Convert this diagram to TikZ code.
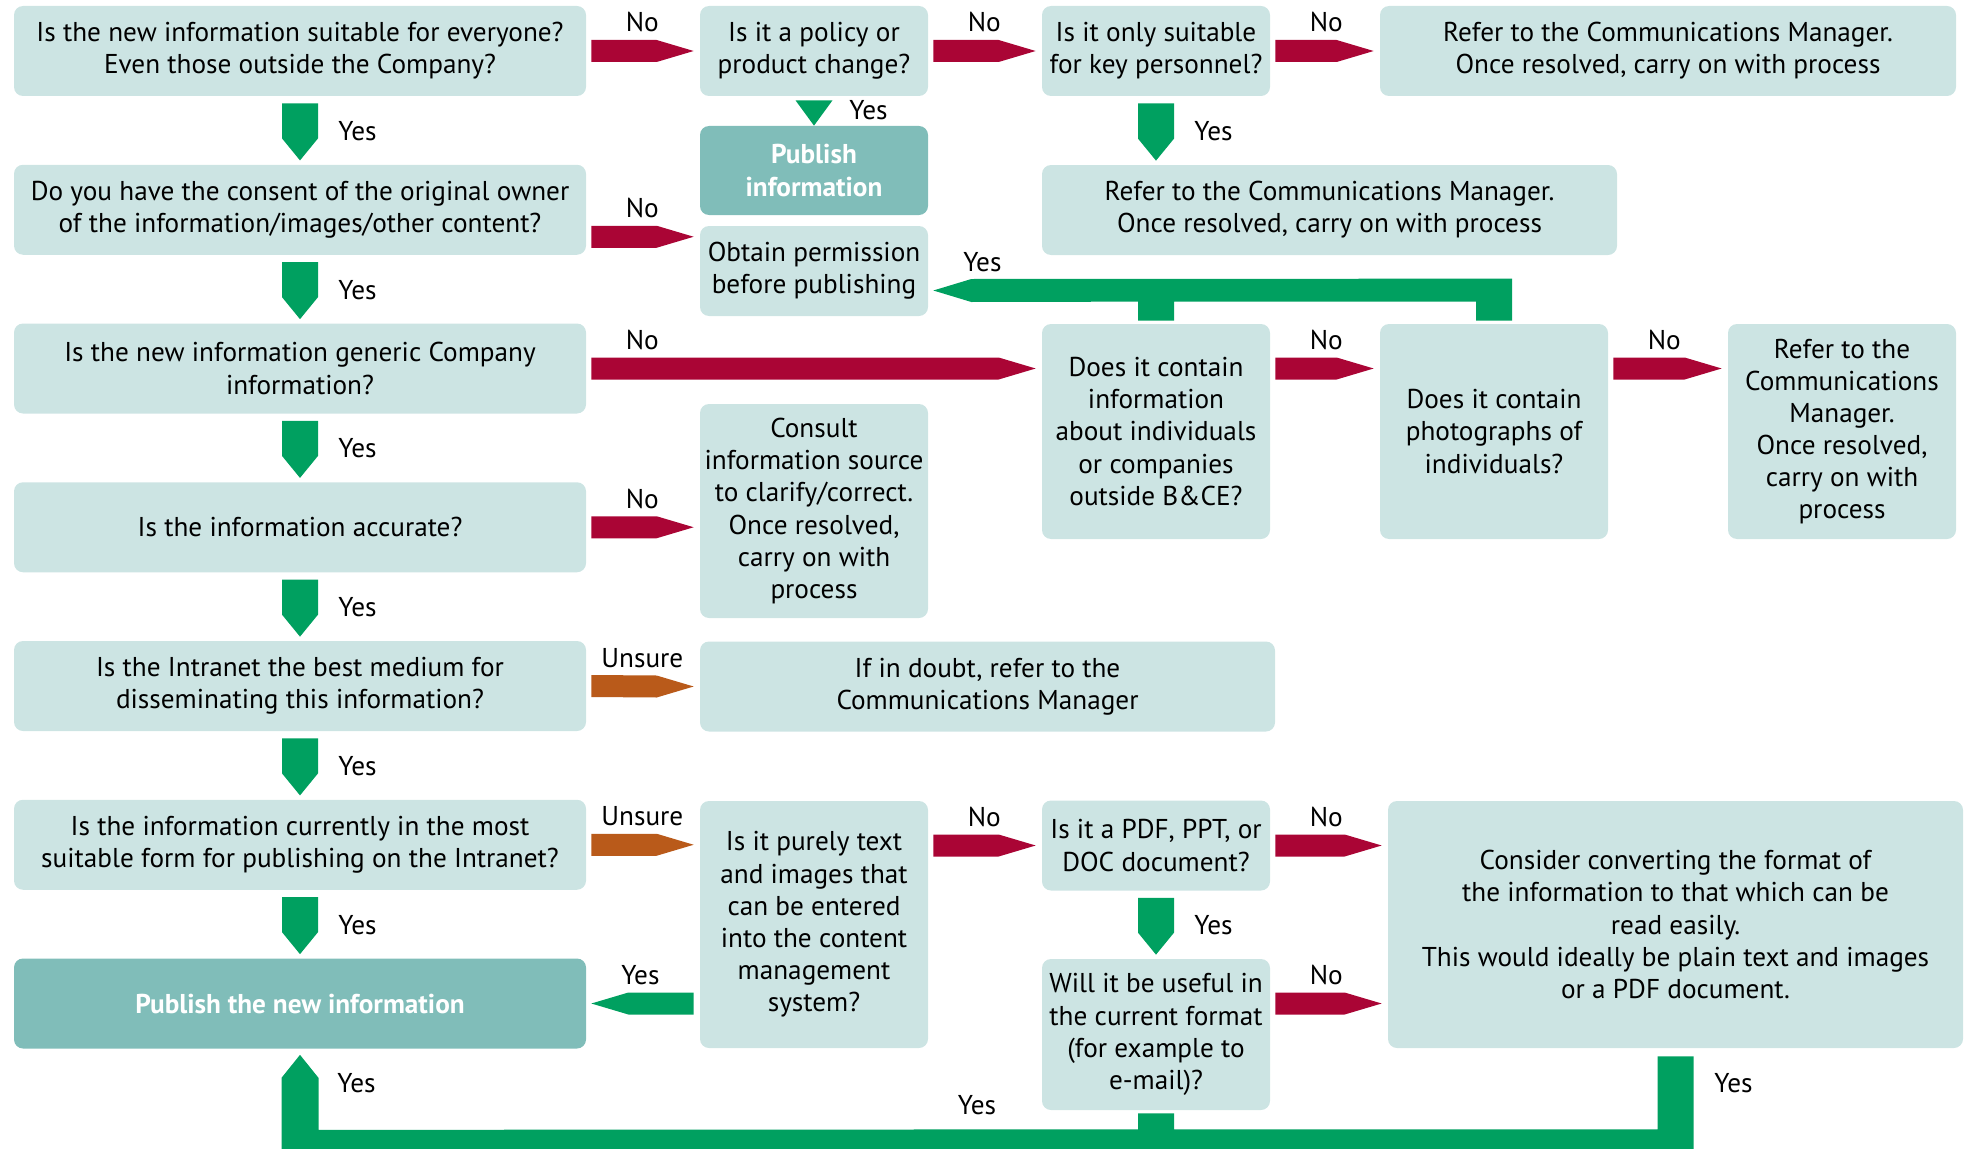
\documentclass[tikz,border=0pt]{standalone}
\usepackage{fontspec}
\setmainfont{PT Sans}
\usepackage{tikz}
\usetikzlibrary{positioning, calc}

\newdimen\pxu \pxu=0.02cm
\newcommand\boxfont{\fontsize{15.5pt}{18.3pt}\selectfont}

\definecolor{boxfill}{HTML}{CCE4E3}
\definecolor{pubfill}{HTML}{80BDB9}
\definecolor{nocol}{HTML}{AA0535}
\definecolor{yescol}{HTML}{00A060}
\definecolor{unsurecol}{HTML}{B95A1A}

\tikzset{
  box/.style = {rectangle, rounded corners=9\pxu, fill=boxfill, text=black, align=center,
                inner sep=0pt, font=\boxfont, minimum height=90\pxu},
  wide/.style = {minimum width=572\pxu},
  narrow/.style = {minimum width=228\pxu},
  pub/.style = {box, fill=pubfill, text=white, font=\boxfont\bfseries},
  lbl/.style = {anchor=base, inner sep=0pt, font=\boxfont},
  ylbl/.style = {lbl, anchor=base west},
  % fat arrows between boxes
  fwd/.style = {to path={($(\tikztostart)+(5,-11)$) -- ($(\tikztotarget)+(-43,-11)$)
                -- ($(\tikztotarget)+(-6,0)$) -- ($(\tikztotarget)+(-43,11)$)
                -- ($(\tikztostart)+(5,11)$) -- cycle}},
  back/.style = {to path={($(\tikztostart)+(-6,-11)$) -- ($(\tikztotarget)+(42,-11)$)
                -- ($(\tikztotarget)+(5,0)$) -- ($(\tikztotarget)+(42,11)$)
                -- ($(\tikztostart)+(-6,11)$) -- cycle}},
  down/.style = {to path={($(\tikztostart)+(-18,7)$) -- ($(\tikztotarget)+(-18,-26)$)
                -- ($(\tikztotarget)+(0,-4)$) -- ($(\tikztotarget)+(18,-26)$)
                -- ($(\tikztostart)+(18,7)$) -- cycle}},
}

\begin{document}
\begin{tikzpicture}[x=\pxu, y=-\pxu, node distance=158.75\pxu, on grid]
    \useasboundingbox (0,0) rectangle (1971,1149);

    % main column
    \node (q1) [box, wide] at (300,51) {Is the new information suitable for everyone?\\Even those outside the Company?};
    \node (q4) [box, wide, below=of q1] {Do you have the consent of the original owner\\of the information/images/other content?};
    \node (q5) [box, wide, below=of q4] {Is the new information generic Company\\information?};
    \node (q8) [box, wide, below=of q5] {Is the information accurate?};
    \node (q9) [box, wide, below=of q8] {Is the Intranet the best medium for\\disseminating this information?};
    \node (q10) [box, wide, below=of q9] {Is the information currently in the most\\suitable form for publishing on the Intranet?};
    \node (publish) [pub, wide, below=of q10] {Publish the new information};

    % top rows
    \node (q2) [box, narrow, right=514\pxu of q1] {Is it a policy or\\product change?};
    \node (q3) [box, narrow, right=342\pxu of q2] {Is it only suitable\\for key personnel?};
    \node (ref1) [box, minimum width=576\pxu, right=512\pxu of q3] {Refer to the Communications Manager.\\Once resolved, carry on with process};
    \node (pubinfo) [pub, narrow, minimum height=89\pxu] at (814,170.5) {Publish\\information};
    \node (ref2) [box, minimum width=575\pxu] at (1329.5,210) {Refer to the Communications Manager.\\Once resolved, carry on with process};
    \node (perm) [box, narrow] at (814,271) {Obtain permission\\before publishing};

    % middle rows
    \node (q6) [box, narrow, minimum height=215\pxu] at (1156,431.5) {Does it contain\\information\\about individuals\\or companies\\outside B\&CE?};
    \node (q7) [box, narrow, minimum height=215\pxu, right=338\pxu of q6] {Does it contain\\photographs of\\individuals?};
    \node (ref3) [box, narrow, minimum height=215\pxu, right=348\pxu of q7] {Refer to the\\Communications\\Manager.\\Once resolved,\\carry on with\\process};
    \node (consult) [box, narrow, minimum height=214\pxu] at (814,511) {Consult\\information source\\to clarify/correct.\\Once resolved,\\carry on with\\process};
    \node (doubt) [box, minimum width=575\pxu] at (987.5,686.5) {If in doubt, refer to the\\Communications Manager};

    % bottom rows
    \node (q11) [box, narrow, minimum height=247\pxu] at (814,924.5) {Is it purely text\\and images that\\can be entered\\into the content\\management\\system?};
    \node (q12) [box, narrow] at (1156,845.5) {Is it a PDF, PPT, or\\DOC document?};
    \node (q13) [box, narrow, minimum height=151\pxu] at (1156,1034.5) {Will it be useful in\\the current format\\(for example to\\e-mail)?};
    \node (convert) [box, minimum width=575\pxu, minimum height=247\pxu] at (1675.5,924.5) {Consider converting the format of\\the information to that which can be\\read easily.\\This would ideally be plain text and images\\or a PDF document.};

    % No / Unsure arrows
    \coordinate (n4) at ($(q4.east)+(0,27)$);
    \fill [nocol] (q1.east) to[fwd] (q2.west);
    \fill [nocol] (q2.east) to[fwd] (q3.west);
    \fill [nocol] (q3.east) to[fwd] (ref1.west);
    \fill [nocol] (n4) to[fwd] (n4 -| perm.west);
    \fill [nocol] (q5.east) to[fwd] (q5.east -| q6.west);
    \fill [nocol] (q6.east |- q5.east) to[fwd] (q7.west |- q5.east);
    \fill [nocol] (q7.east |- q5.east) to[fwd] (ref3.west |- q5.east);
    \fill [nocol] (q8.east) to[fwd] (q8.east -| consult.west);
    \fill [unsurecol] (q9.east) to[fwd] (doubt.west);
    \fill [unsurecol] (q10.east) to[fwd] (q10.east -| q11.west);
    \fill [nocol] (q11.east |- q12.west) to[fwd] (q12.west);
    \fill [nocol] (q12.east) to[fwd] (q12.east -| convert.west);
    \fill [nocol] (q13.east |- publish.east) to[fwd] (convert.west |- publish.east);

    \node (no1) [lbl] at ($(q1.east)+(56,-19)$) {No};
    \node (no2) [lbl] at ($(q2.east)+(56,-19)$) {No};
    \node (no3) [lbl] at ($(q3.east)+(56,-19)$) {No};
    \node (no4) [lbl] at ($(n4)+(56,-19)$) {No};
    \node (no5) [lbl] at ($(q5.east)+(56,-19)$) {No};
    \node (no6) [lbl] at ($(q6.east |- q5.east)+(56,-19)$) {No};
    \node (no7) [lbl] at ($(q7.east |- q5.east)+(56,-19)$) {No};
    \node (no8) [lbl] at ($(q8.east)+(56,-19)$) {No};
    \node (unsure1) [lbl] at ($(q9.east)+(56,-19)$) {Unsure};
    \node (unsure2) [lbl] at ($(q10.east)+(56,-19)$) {Unsure};
    \node (no9) [lbl] at ($(q11.east |- q12.west)+(56,-19)$) {No};
    \node (no10) [lbl] at ($(q12.east)+(56,-19)$) {No};
    \node (no11) [lbl] at ($(q13.east |- publish.east)+(56,-19)$) {No};

    % Yes arrows
    \foreach \a/\b in {q1/q4, q4/q5, q5/q8, q8/q9, q9/q10, q10/publish, q12/q13}
        \fill [yescol] (\a.south) to[down] (\b.north);
    \fill [yescol] (q3.south) to[down] (q3.south |- ref2.north);
    \foreach \a in {q1, q4, q5, q8, q9, q10, q12, q3}
        \node (yes\a) [ylbl] at ($(\a.south)+(38,44)$) {Yes};

    \fill [yescol] ($(q2.south)+(-18.5,4)$) -- ($(q2.south)+(18.5,4)$) -- (pubinfo.north) -- cycle;
    \node (yesq2) [ylbl] at ($(q2.south)+(35,23)$) {Yes};

    \fill [yescol] (q11.west |- publish.east) to[back] (publish.east);
    \node (yesq11) [lbl] at ($(publish.east)+(54,-19)$) {Yes};

    % back to obtain permission
    \coordinate (bt) at ($(perm.east)+(5,19.5)$);
    \fill [yescol] (bt) -- ++(38,-11.5) -- ($(q7.north)+(18,-45)$) -- ($(q7.north)+(18,-3)$)
        -- ($(q7.north)+(-18,-3)$) -- ($(q7.north)+(-18,-22)$) -- ($(q6.north)+(18,-22)$)
        -- ($(q6.north)+(18,-3)$) -- ($(q6.north)+(-18,-3)$) -- ($(q6.north)+(-18,-22)$)
        -- ($(bt)+(38,11.5)$) -- cycle;
    \node (yesq6) [lbl] at ($(bt)+(49,-19.5)$) {Yes};

    % loop back to publish
    \fill [yescol] ($(publish.south)+(0,6)$) -- ++(18.5,23) -- ($(publish.south)+(18.5,81)$)
        -- ($(q13.south)+(-18,19)$) -- ($(q13.south)+(-18,3)$) -- ($(q13.south)+(18,3)$)
        -- ($(q13.south)+(18,19)$) -- ($(convert.south)+(-18,81)$) -- ($(convert.south)+(-18,8)$)
        -- ($(convert.south)+(18,8)$) -- ($(convert.south)+(18,104)$)
        -- ($(publish.south)+(-18.5,104)$) -- ($(publish.south)+(-18.5,29)$) -- cycle;
    \node (yespub) [ylbl] at ($(publish.south)+(37,44)$) {Yes};
    \node (yesq13) [lbl] at ($(q13.south)+(-179,4)$) {Yes};
    \node (yesconv) [ylbl] at ($(convert.south)+(38.5,44)$) {Yes};
\end{tikzpicture}
\end{document}
